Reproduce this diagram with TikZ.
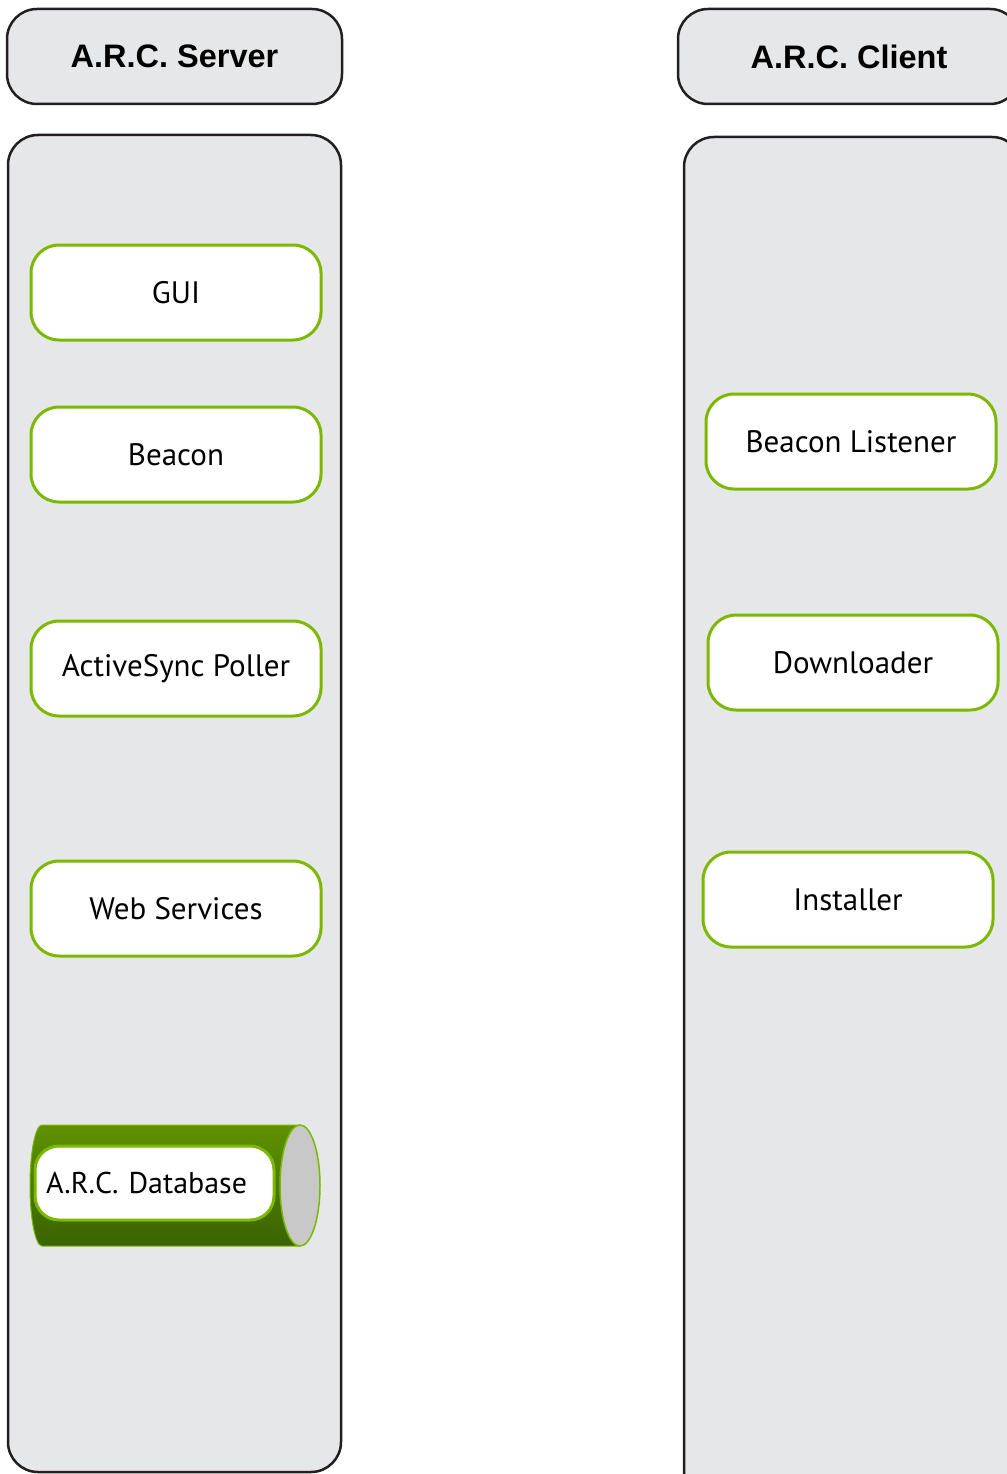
\documentclass[tikz,border=0pt]{standalone}
\usepackage{fontspec}
\setmainfont{PT Sans}
\newfontfamily\headfont{Liberation Sans}
\usepackage{tikz}

\definecolor{panelgray}{HTML}{E6E7E8}
\definecolor{edgegray}{HTML}{231F20}
\definecolor{partgreen}{HTML}{7CB800}
\definecolor{dbtop}{HTML}{5E9200}
\definecolor{dbbottom}{HTML}{3A6300}
\definecolor{capgray}{HTML}{C8C8C8}

\begin{document}
\begin{tikzpicture}[x=1pt,y=-1pt,
                    panel/.style={draw=edgegray,fill=panelgray,line width=2.5pt,rounded corners=30pt},
                    title/.style={panel,minimum height=95pt,
                                  font=\headfont\bfseries\fontsize{32.5}{38}\selectfont},
                    part/.style={draw=partgreen,fill=white,line width=3pt,rounded corners=28pt,
                                 minimum width=290pt,minimum height=95pt,
                                 font=\fontsize{31}{37}\selectfont}]
  \useasboundingbox (0,0) rectangle (1006,1474);

  % the two columns
  \draw[panel] (8,135) rectangle (341,1472);
  \draw[panel] (684,137) rectangle (1022,1500);

  \node[title,minimum width=335pt] (server) at (174.5,56.5) {A.R.C. Server};
  \node[title,minimum width=342pt] (client) at (849,56.5)   {A.R.C. Client};

  % server side
  \node[part] (gui)     at (176,292.5) {GUI};
  \node[part] (beacon)  at (176,454.5) {Beacon};
  \node[part] (poller)  at (176,668.5) {ActiveSync Poller};
  \node[part] (webserv) at (176,908.5) {Web Services};

  % database drum
  \shade[top color=dbtop,bottom color=dbbottom,draw=partgreen,line width=1pt]
    (300,1125) -- (42,1125)
    arc[start angle=270,end angle=90,x radius=12,y radius=60.5]
    -- (300,1246) -- cycle;
  \draw[fill=capgray,draw=partgreen,line width=1.5pt]
    (300,1185.5) ellipse[x radius=20,y radius=60.5];
  \node[part,minimum width=239pt,minimum height=74pt,rounded corners=24pt,
        font=\fontsize{30}{36}\selectfont,
        text width=217pt,inner xsep=11pt,align=left] (database) at (154.5,1183) {A.R.C. Database};

  % client side
  \node[part] (listener)   at (851,441.5) {Beacon Listener};
  \node[part] (downloader) at (853,662.5) {Downloader};
  \node[part] (installer)  at (848,899.5) {Installer};
\end{tikzpicture}
\end{document}
